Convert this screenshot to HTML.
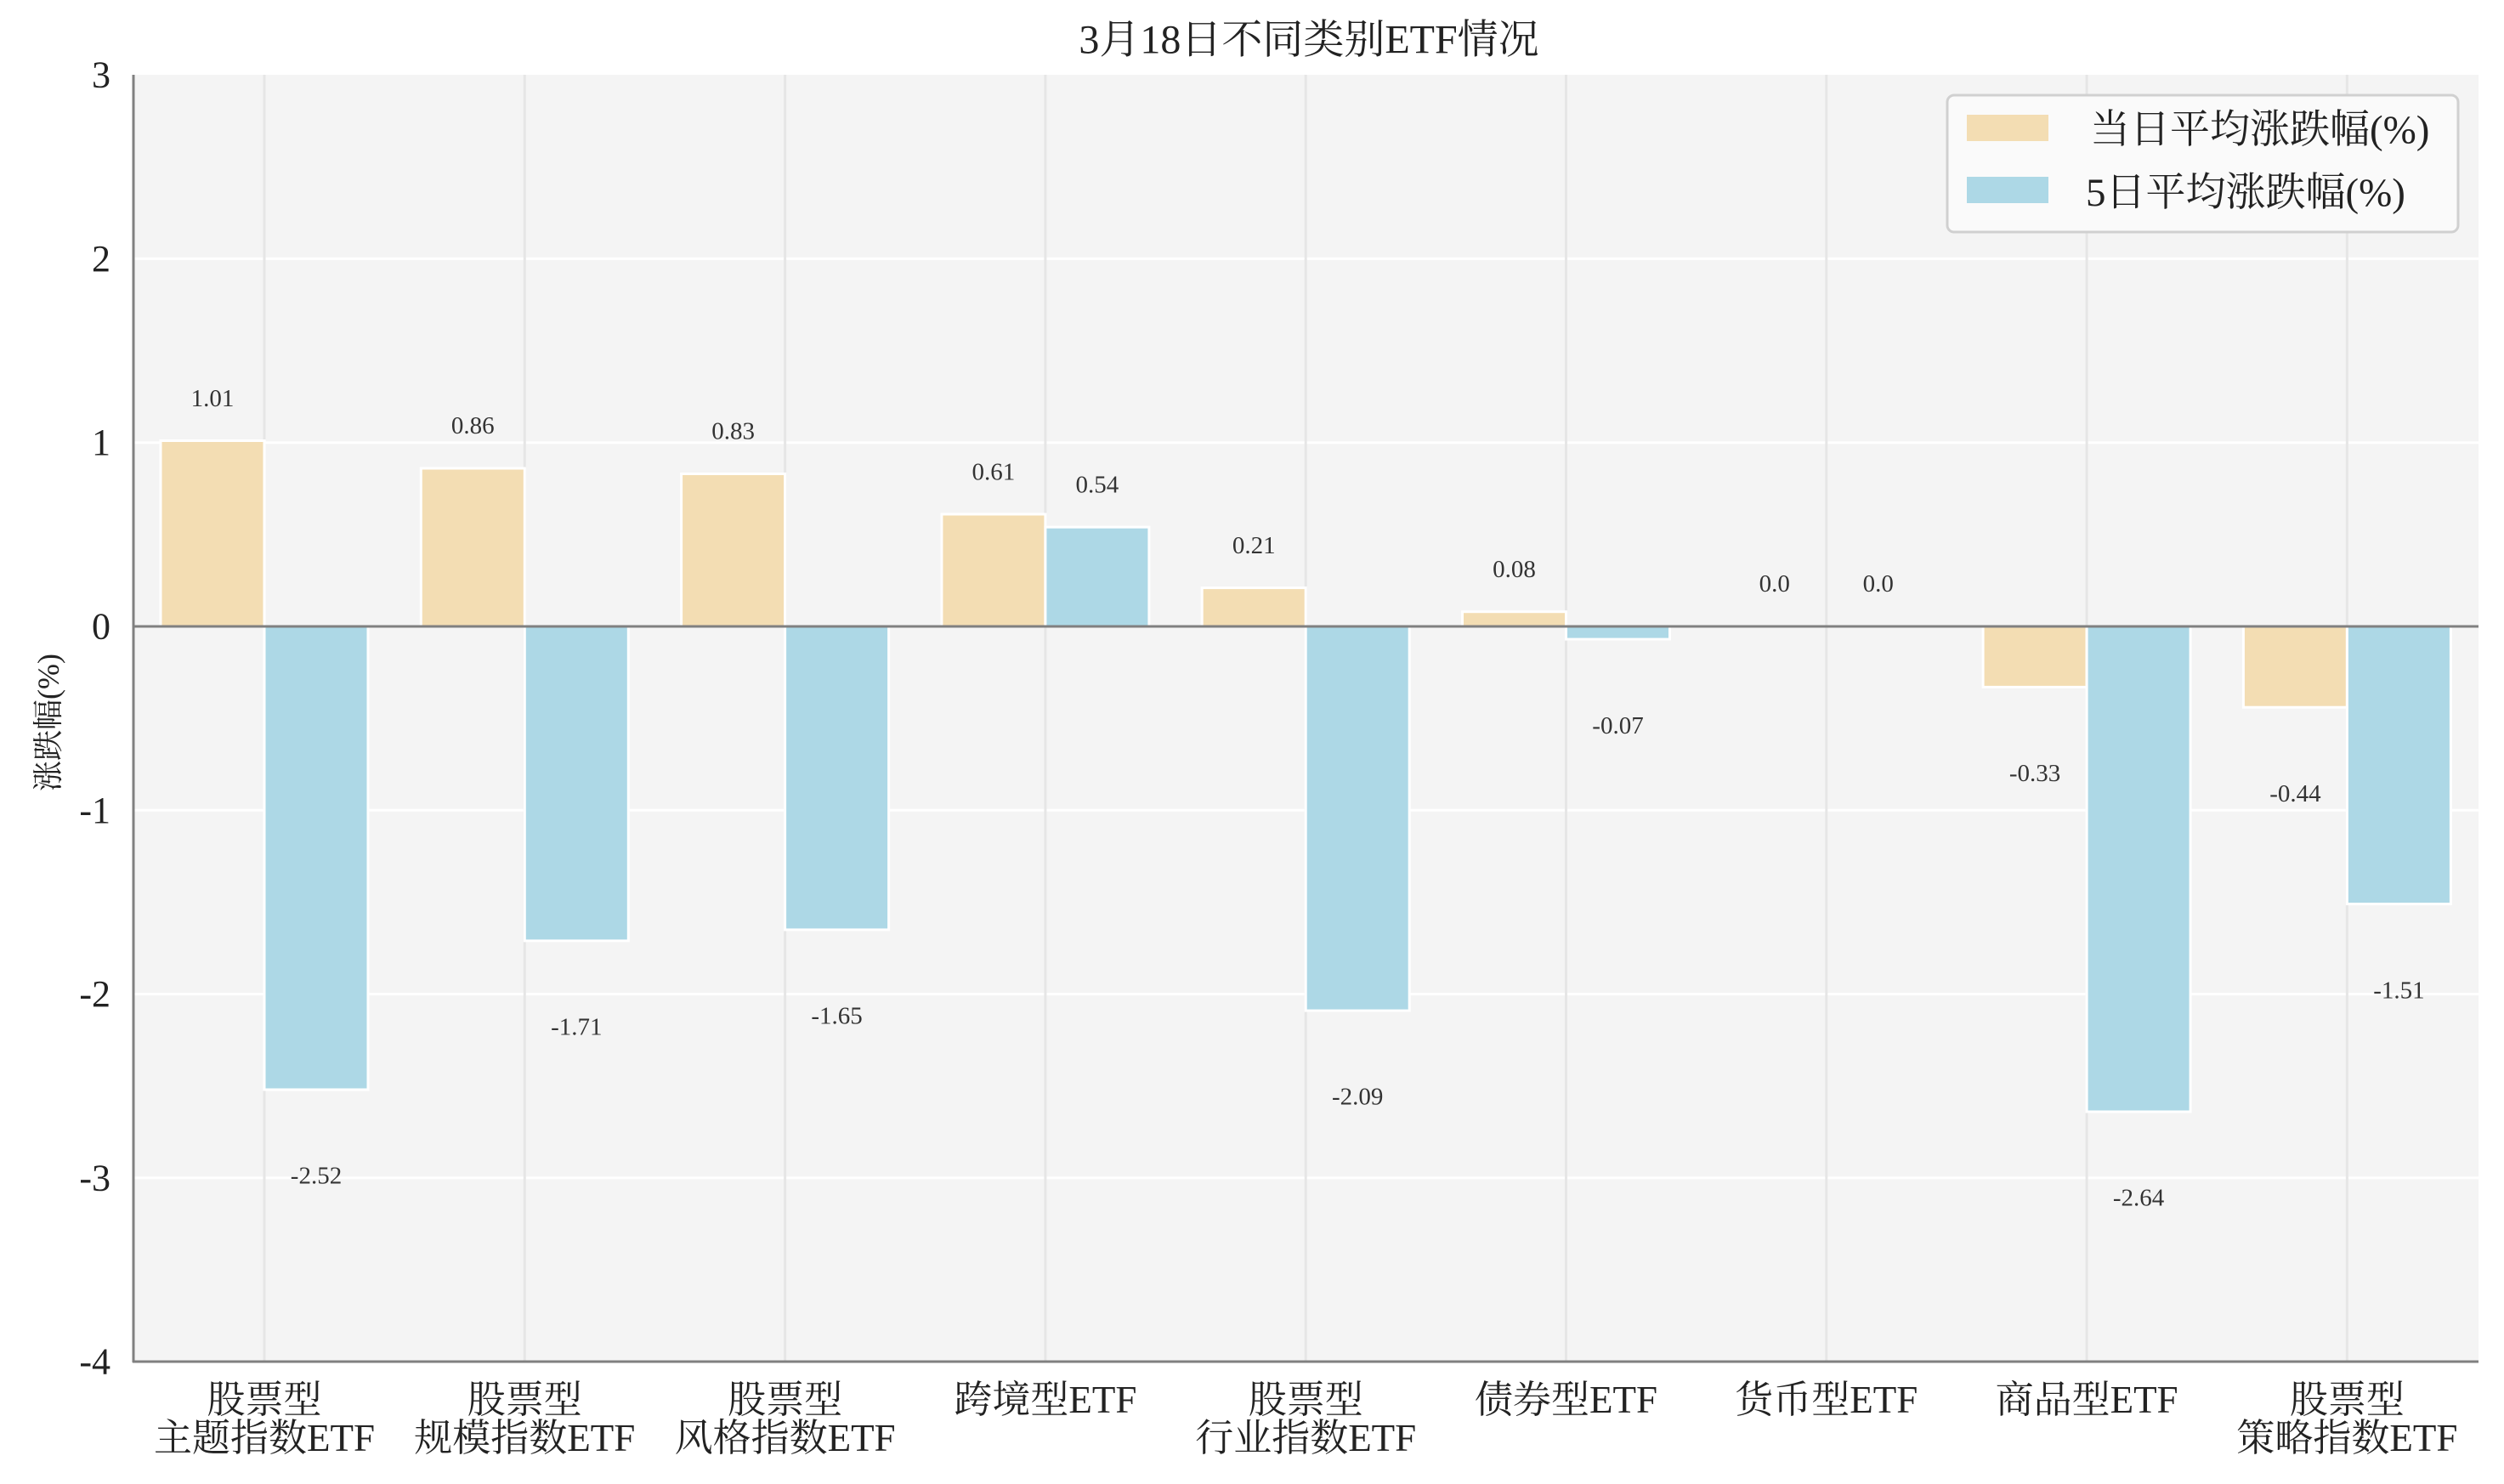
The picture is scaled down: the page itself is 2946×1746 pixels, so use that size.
<!DOCTYPE html>
<html><head><meta charset="utf-8"><style>
html,body{margin:0;padding:0;background:#fff;}
svg{display:block;font-family:"Liberation Serif","Noto Serif CJK SC",serif;}
</style></head><body>
<svg width="2946" height="1746" viewBox="0 0 2946 1746" xmlns="http://www.w3.org/2000/svg">
<rect x="157" y="88" width="2759" height="1514" fill="#f4f4f4"/>
<g stroke="#ffffff" stroke-width="3">
<line x1="157" x2="2916" y1="304.4" y2="304.4"/><line x1="157" x2="2916" y1="520.7" y2="520.7"/>
<line x1="157" x2="2916" y1="953.3" y2="953.3"/><line x1="157" x2="2916" y1="1169.6" y2="1169.6"/>
<line x1="157" x2="2916" y1="1385.9" y2="1385.9"/>
</g>
<g stroke="#e6e6e6" stroke-width="3">
<line x1="311" x2="311" y1="88" y2="1602"/><line x1="617.3" x2="617.3" y1="88" y2="1602"/>
<line x1="923.6" x2="923.6" y1="88" y2="1602"/><line x1="1229.9" x2="1229.9" y1="88" y2="1602"/>
<line x1="1536.2" x2="1536.2" y1="88" y2="1602"/><line x1="1842.5" x2="1842.5" y1="88" y2="1602"/>
<line x1="2148.8" x2="2148.8" y1="88" y2="1602"/><line x1="2455.1" x2="2455.1" y1="88" y2="1602"/>
<line x1="2761.4" x2="2761.4" y1="88" y2="1602"/>
</g>
<g fill="#f3ddb3" stroke="#fff" stroke-width="3">
<rect x="189" y="518.5" width="122" height="218.5"/>
<rect x="495.3" y="551" width="122" height="186"/>
<rect x="801.6" y="557.5" width="122" height="179.5"/>
<rect x="1107.9" y="605" width="122" height="132"/>
<rect x="1414.2" y="691.6" width="122" height="45.4"/>
<rect x="1720.5" y="719.7" width="122" height="17.3"/>
<rect x="2333.1" y="737" width="122" height="71.4"/>
<rect x="2639.4" y="737" width="122" height="95.2"/>
</g>
<g fill="#add8e6" stroke="#fff" stroke-width="3">
<rect x="311" y="737" width="122" height="545"/>
<rect x="617.3" y="737" width="122" height="369.9"/>
<rect x="923.6" y="737" width="122" height="356.9"/>
<rect x="1229.9" y="620.2" width="122" height="116.8"/>
<rect x="1536.2" y="737" width="122" height="452.1"/>
<rect x="1842.5" y="737" width="122" height="15.1"/>
<rect x="2455.1" y="737" width="122" height="571"/>
<rect x="2761.4" y="737" width="122" height="326.6"/>
</g>
<line x1="157" x2="2916" y1="737" y2="737" stroke="#808080" stroke-width="3"/>
<line x1="157" x2="157" y1="88" y2="1603" stroke="#808080" stroke-width="3"/>
<line x1="156" x2="2916" y1="1602" y2="1602" stroke="#808080" stroke-width="3"/>
<g font-size="29" fill="#333" text-anchor="middle" dominant-baseline="central">
<text x="250" y="468.8">1.01</text><text x="556.3" y="501.2">0.86</text>
<text x="862.6" y="507.7">0.83</text><text x="1168.9" y="555.3">0.61</text>
<text x="1475.2" y="641.8">0.21</text><text x="1781.5" y="670">0.08</text>
<text x="2087.8" y="687">0.0</text><text x="2394.1" y="910">-0.33</text>
<text x="2700.4" y="933.8">-0.44</text>
<text x="372" y="1383.7">-2.52</text><text x="678.3" y="1208.5">-1.71</text>
<text x="984.6" y="1195.6">-1.65</text><text x="1290.9" y="570.4">0.54</text>
<text x="1597.2" y="1290.7">-2.09</text><text x="1903.5" y="853.8">-0.07</text>
<text x="2209.8" y="687">0.0</text><text x="2516.1" y="1409.7">-2.64</text>
<text x="2822.4" y="1165.3">-1.51</text>
</g>
<g font-size="44" fill="#222" text-anchor="end" dominant-baseline="central">
<text x="130" y="88">3</text><text x="130" y="304.4">2</text><text x="130" y="520.7">1</text>
<text x="130" y="737">0</text><text x="130" y="953.3">-1</text><text x="130" y="1169.6">-2</text>
<text x="130" y="1385.9">-3</text><text x="130" y="1602">-4</text>
</g>
<g font-size="45" fill="#222" text-anchor="middle" dominant-baseline="central">
<text x="311" y="1647">股票型</text><text x="311" y="1692">主题指数ETF</text>
<text x="617.3" y="1647">股票型</text><text x="617.3" y="1692">规模指数ETF</text>
<text x="923.6" y="1647">股票型</text><text x="923.6" y="1692">风格指数ETF</text>
<text x="1229.9" y="1647">跨境型ETF</text>
<text x="1536.2" y="1647">股票型</text><text x="1536.2" y="1692">行业指数ETF</text>
<text x="1842.5" y="1647">债券型ETF</text>
<text x="2148.8" y="1647">货币型ETF</text>
<text x="2455.1" y="1647">商品型ETF</text>
<text x="2761.4" y="1647">股票型</text><text x="2761.4" y="1692">策略指数ETF</text>
</g>
<text x="1540" y="47" font-size="48" fill="#222" text-anchor="middle" dominant-baseline="central">3月18日不同类别ETF情况</text>
<text transform="translate(57,850) rotate(-90)" font-size="36" fill="#222" text-anchor="middle" dominant-baseline="central">涨跌幅(%)</text>
<rect x="2291" y="112" width="601" height="161" rx="8" fill="#fafafa" stroke="#d0d0d0" stroke-width="3"/>
<rect x="2314" y="135" width="96" height="31" fill="#f3ddb3"/>
<rect x="2314" y="208" width="96" height="31" fill="#add8e6"/>
<g font-size="47" fill="#222" dominant-baseline="central">
<text x="2459" y="153">当日平均涨跌幅(%)</text>
<text x="2454" y="227">5日平均涨跌幅(%)</text>
</g>
</svg>
</body></html>
